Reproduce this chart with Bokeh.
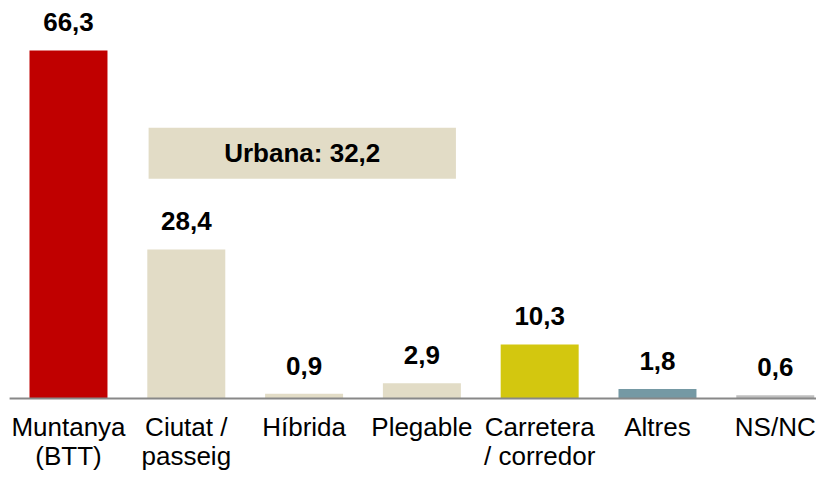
from bokeh.plotting import figure
from bokeh.models import Range1d, ColumnDataSource
from bokeh.core.properties import value
from bokeh.embed import file_html
from bokeh.resources import INLINE

# ---- data ----
categories_line1 = ["Muntanya", "Ciutat /", "Híbrida", "Plegable", "Carretera", "Altres", "NS/NC"]
categories_line2 = ["(BTT)", "passeig", "", "", "/ corredor", "", ""]
values = [66.3, 28.4, 0.9, 2.9, 10.3, 1.8, 0.6]
colors = ["#C00000", "#E2DCC6", "#E2DCC6", "#E2DCC6", "#D3C70F", "#7599A4", "#BFBFBF"]
urbana_label = "Urbana"
urbana_total = 32.2

FONT = "Liberation Sans"

def fmt(v):
    return f"{v:.1f}".replace(".", ",")

xs = list(range(len(values)))
src = ColumnDataSource(dict(
    x=xs, top=values, color=colors,
    lab=[fmt(v) for v in values],
    l1=categories_line1, l2=categories_line2,
    zero=[0] * len(values),
))

X_START, X_END = -0.5772, 6.350
Y_START, Y_END = -14.669, 75.82

p = figure(width=816, height=475, output_backend="svg", toolbar_location=None,
           x_range=Range1d(X_START, X_END), y_range=Range1d(Y_START, Y_END),
           min_border=0, outline_line_color=None)
p.axis.visible = False
p.grid.visible = False
p.background_fill_color = "white"
p.border_fill_color = "white"

# Urbana annotation box
box_left, box_right, box_bottom, box_top = 0.68, 3.289, 41.88, 51.56
p.quad(left=[box_left], right=[box_right], bottom=[box_bottom], top=[box_top],
       fill_color="#E2DCC6", line_color=None)
p.text(x=[(box_left + box_right) / 2], y=[(box_bottom + box_top) / 2],
       text=[f"{urbana_label}: {fmt(urbana_total)}"],
       text_font=value(FONT), text_font_style="bold", text_font_size="26px",
       text_align="center", text_baseline="middle", y_offset=0, text_color="black")

# bars
p.vbar(x="x", top="top", bottom=0, width=0.662, fill_color="color", line_color=None, source=src)

# baseline
p.segment(x0=[-0.5], x1=[X_END], y0=[0], y1=[0], line_color="#888888", line_width=2)

# value labels
p.text(x="x", y="top", text="lab", source=src,
       text_font=value(FONT), text_font_style="bold", text_font_size="26px",
       text_align="center", text_baseline="middle", y_offset=-28, text_color="black")

# category labels
p.text(x="x", y="zero", text="l1", source=src,
       text_font=value(FONT), text_font_size="26px",
       text_align="center", text_baseline="middle", y_offset=29, text_color="black")
p.text(x="x", y="zero", text="l2", source=src,
       text_font=value(FONT), text_font_size="26px",
       text_align="center", text_baseline="middle", y_offset=58, text_color="black")

open("out.html", "w").write(file_html(p, INLINE))
